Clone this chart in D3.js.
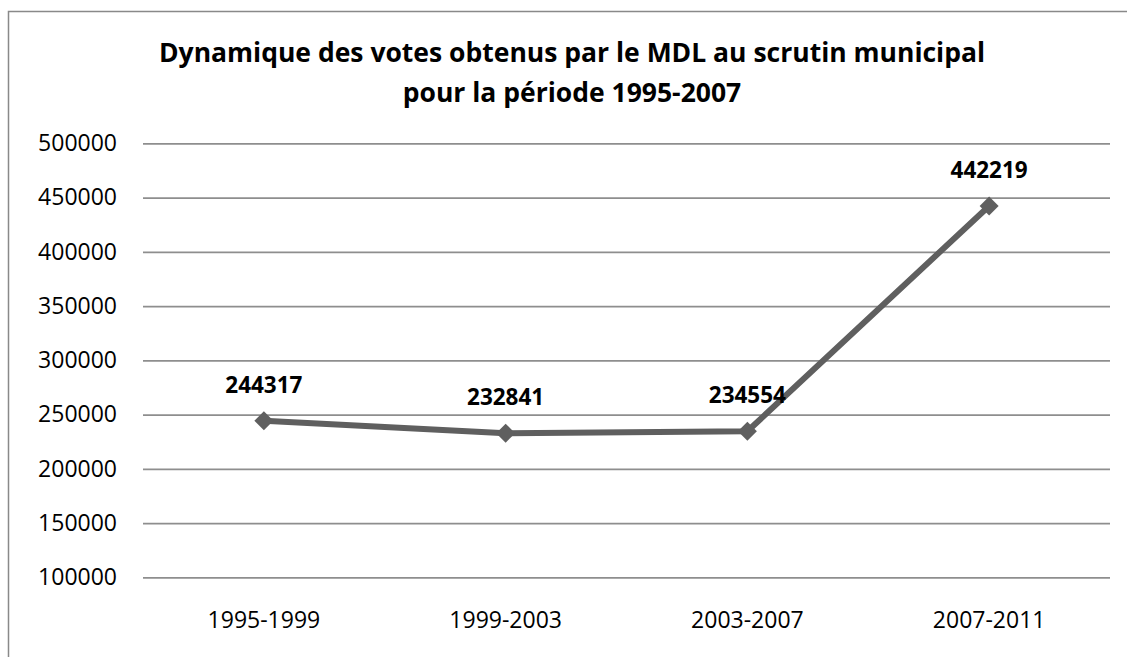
<!DOCTYPE html>
<html>
<head>
<meta charset="utf-8">
<script src="https://cdn.jsdelivr.net/npm/d3@7"></script>
<style>
  body { margin: 0; background: #fff; }
  svg { display: block; }
</style>
</head>
<body>
<div id="chart"></div>
<script>
// data
const periods = ["1995-1999", "1999-2003", "2003-2007", "2007-2011"];
const votes = [244317, 232841, 234554, 442219];
const yTicks = [100000, 150000, 200000, 250000, 300000, 350000, 400000, 450000, 500000];
const titleLines = ["Dynamique des votes obtenus par le MDL au scrutin municipal", "pour la période 1995-2007"];

const width = 1127, height = 657;
const margin = { top: 143.3, right: 17, bottom: 79.7, left: 143 };
const font = "'Open Sans', 'DejaVu Sans', sans-serif";

const svg = d3.select("#chart").append("svg")
  .attr("width", width)
  .attr("height", height);

// outer frame (only top and left edges visible in the picture)
svg.append("rect")
  .attr("x", 8.5).attr("y", 11.5)
  .attr("width", width + 20).attr("height", height + 20)
  .attr("fill", "none")
  .attr("stroke", "#898989")
  .attr("stroke-width", 1.5);

const x = d3.scaleBand()
  .domain(periods)
  .range([margin.left, width - margin.right]);

const y = d3.scaleLinear()
  .domain([100000, 500000])
  .range([height - margin.bottom, margin.top]);

// gridlines + y labels
const yAxis = svg.append("g")
  .attr("transform", "translate(" + margin.left + ",0)")
  .call(d3.axisLeft(y).tickValues(yTicks).tickFormat(d3.format("d"))
    .tickSize(-(width - margin.left - margin.right)).tickPadding(26));
yAxis.select(".domain").remove();
yAxis.selectAll(".tick line")
  .attr("stroke", "#8e8e8e")
  .attr("stroke-width", 1.75);
yAxis.selectAll(".tick text")
  .attr("font-family", font)
  .attr("font-size", "23px")
  .attr("fill", "#000");

// x labels
const xAxis = svg.append("g")
  .attr("transform", "translate(0," + (height - margin.bottom) + ")")
  .call(d3.axisBottom(x).tickSize(0).tickPadding(34));
xAxis.select(".domain").remove();
xAxis.selectAll(".tick text")
  .attr("font-family", font)
  .attr("font-size", "23px")
  .attr("fill", "#000");

// title
svg.append("text")
  .attr("x", 572)
  .attr("text-anchor", "middle")
  .attr("font-family", font)
  .attr("font-weight", "bold")
  .attr("font-size", "26.5px")
  .attr("fill", "#000")
  .selectAll("tspan")
  .data(titleLines)
  .join("tspan")
  .attr("x", 572)
  .attr("y", (d, i) => 62 + i * 40)
  .text(d => d);

// line
const pts = periods.map((p, i) => ({ period: p, value: votes[i] }));
const line = d3.line()
  .x(d => x(d.period) + x.bandwidth() / 2)
  .y(d => y(d.value));

svg.append("path")
  .datum(pts)
  .attr("d", line)
  .attr("fill", "none")
  .attr("stroke", "#5f5f5f")
  .attr("stroke-width", 6)
  .attr("stroke-linejoin", "round");

// diamond markers
svg.append("g")
  .selectAll("path")
  .data(pts)
  .join("path")
  .attr("d", d3.symbol(d3.symbolSquare, 180))
  .attr("transform", d => "translate(" + (x(d.period) + x.bandwidth() / 2) + "," + y(d.value) + ") rotate(45)")
  .attr("fill", "#5f5f5f");

// value labels
svg.append("g")
  .selectAll("text")
  .data(pts)
  .join("text")
  .attr("x", d => x(d.period) + x.bandwidth() / 2)
  .attr("y", d => y(d.value) - 28)
  .attr("text-anchor", "middle")
  .attr("font-family", font)
  .attr("font-weight", "bold")
  .attr("font-size", "22.5px")
  .attr("fill", "#000")
  .text(d => d.value);
</script>
</body>
</html>
